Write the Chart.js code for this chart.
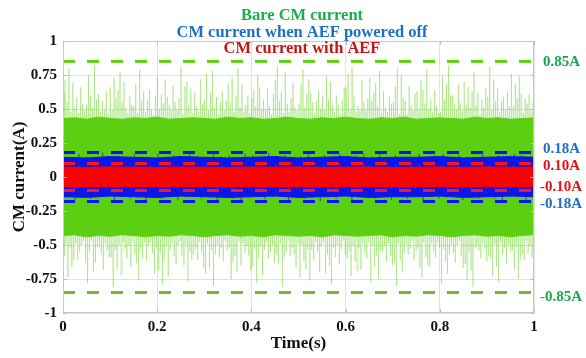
<!DOCTYPE html>
<html>
<head>
<meta charset="utf-8">
<script src="https://cdn.jsdelivr.net/npm/chart.js@4.4.1/dist/chart.umd.min.js"></script>
<style>
  html, body { margin: 0; padding: 0; background: #fff; }
  canvas { display: block; }
</style>
</head>
<body>
<canvas id="cmChart" width="586" height="358"></canvas>
<script>
// sampled CM current peaks (A), alternating positive / negative samples
const bareCurrent = [
  0.62,-0.58, 0.71,-0.49, 0.55,-0.74, 0.80,-0.52, 0.48,-0.66, 0.69,-0.61,
  0.52,-0.49, 0.58,-0.61, 0.47,-0.55, 0.66,-0.50, 0.54,-0.47, 0.49,-0.63,
  0.53,-0.78, 0.75,-0.55, 0.60,-0.47, 0.51,-0.70, 0.82,-0.63, 0.57,-0.51,
  0.61,-0.52, 0.48,-0.57, 0.56,-0.68, 0.50,-0.49, 0.63,-0.54, 0.46,-0.59,
  0.66,-0.59, 0.49,-0.81, 0.73,-0.54, 0.58,-0.68, 0.64,-0.50, 0.77,-0.72,
  0.55,-0.48, 0.70,-0.53, 0.51,-0.60, 0.47,-0.51, 0.59,-0.66, 0.53,-0.47,
  0.52,-0.57, 0.68,-0.64, 0.47,-0.76, 0.79,-0.53, 0.56,-0.60, 0.63,-0.48,
  0.48,-0.62, 0.57,-0.50, 0.64,-0.48, 0.50,-0.56, 0.46,-0.71, 0.60,-0.52,
  0.74,-0.69, 0.50,-0.56, 0.61,-0.79, 0.54,-0.62, 0.72,-0.51, 0.59,-0.73,
  0.53,-0.54, 0.49,-0.49, 0.67,-0.58, 0.55,-0.64, 0.50,-0.50, 0.58,-0.47,
  0.81,-0.58, 0.46,-0.65, 0.67,-0.50, 0.70,-0.77, 0.53,-0.55, 0.65,-0.61,
  0.47,-0.57, 0.62,-0.53, 0.52,-0.61, 0.48,-0.48, 0.72,-0.55, 0.54,-0.67,
  0.57,-0.71, 0.76,-0.49, 0.49,-0.67, 0.62,-0.54, 0.78,-0.80, 0.51,-0.57,
  0.59,-0.50, 0.46,-0.59, 0.55,-0.52, 0.63,-0.62, 0.49,-0.47, 0.56,-0.54,
  0.69,-0.52, 0.55,-0.75, 0.73,-0.63, 0.48,-0.58, 0.60,-0.70, 0.80,-0.47,
  0.51,-0.65, 0.68,-0.49, 0.48,-0.56, 0.53,-0.51, 0.60,-0.58, 0.47,-0.69,
  0.58,-0.66, 0.64,-0.53, 0.52,-0.78, 0.75,-0.60, 0.66,-0.51, 0.50,-0.72,
  0.57,-0.53, 0.50,-0.48, 0.65,-0.60, 0.52,-0.55, 0.46,-0.50, 0.61,-0.63,
  0.71,-0.57, 0.82,-0.64, 0.56,-0.49, 0.63,-0.81, 0.47,-0.59, 0.77,-0.55,
  0.54,-0.47, 0.48,-0.58, 0.58,-0.52, 0.69,-0.57, 0.51,-0.66, 0.49,-0.49,
  0.54,-0.74, 0.68,-0.50, 0.79,-0.62, 0.51,-0.68, 0.61,-0.53, 0.72,-0.76,
  0.62,-0.54, 0.55,-0.61, 0.47,-0.48, 0.56,-0.55, 0.64,-0.70, 0.50,-0.51,
  0.60,-0.48, 0.49,-0.71, 0.74,-0.57, 0.57,-0.65, 0.70,-0.79, 0.53,-0.52,
  0.48,-0.59, 0.60,-0.50, 0.53,-0.64, 0.46,-0.53, 0.57,-0.47, 0.66,-0.57,
  0.65,-0.60, 0.76,-0.55, 0.50,-0.73, 0.81,-0.50, 0.59,-0.62, 0.48,-0.69,
  0.52,-0.52, 0.49,-0.68, 0.71,-0.49, 0.55,-0.56, 0.50,-0.60, 0.58,-0.48,
  0.73,-0.77, 0.56,-0.51, 0.62,-0.66, 0.69,-0.58, 0.52,-0.75, 0.78,-0.54,
  0.47,-0.55, 0.63,-0.51, 0.51,-0.62, 0.48,-0.49, 0.59,-0.58, 0.54,-0.65,
  0.55,-0.63, 0.67,-0.80, 0.80,-0.49, 0.46,-0.61, 0.75,-0.70, 0.58,-0.56,
  0.56,-0.50, 0.46,-0.57, 0.67,-0.53, 0.53,-0.47, 0.49,-0.61, 0.61,-0.54,
  0.63,-0.52, 0.50,-0.67, 0.71,-0.74, 0.64,-0.48, 0.54,-0.59, 0.79,-0.65,
  0.50,-0.66, 0.57,-0.49, 0.48,-0.55, 0.64,-0.59, 0.52,-0.48, 0.47,-0.52,
  0.48,-0.78, 0.74,-0.53, 0.57,-0.62, 0.68,-0.71, 0.82,-0.57, 0.60,-0.50,
  0.60,-0.56, 0.54,-0.63, 0.50,-0.50, 0.68,-0.47, 0.55,-0.58, 0.49,-0.67,
  0.70,-0.64, 0.53,-0.76, 0.66,-0.55, 0.51,-0.69, 0.63,-0.81, 0.77,-0.52,
  0.53,-0.51, 0.62,-0.54, 0.46,-0.60, 0.57,-0.49, 0.51,-0.53, 0.65,-0.62,
  0.59,-0.58, 0.81,-0.60, 0.49,-0.73, 0.72,-0.49, 0.56,-0.66, 0.65,-0.77,
  0.48,-0.48, 0.56,-0.57, 0.59,-0.52, 0.50,-0.64, 0.63,-0.50, 0.52,-0.55,
  0.76,-0.54, 0.52,-0.68, 0.69,-0.51, 0.58,-0.75, 0.74,-0.61, 0.61,-0.57,
  0.47,-0.61, 0.58,-0.47, 0.54,-0.56, 0.61,-0.51, 0.49,-0.59, 0.55,-0.53
];
const offCurrent = [
  0.16,-0.15, 0.14,-0.17, 0.17,-0.14, 0.15,-0.16, 0.13,-0.15, 0.18,-0.13,
  0.15,-0.17, 0.16,-0.14, 0.14,-0.16, 0.17,-0.15, 0.15,-0.18, 0.13,-0.14,
  0.17,-0.16, 0.15,-0.13, 0.16,-0.17, 0.14,-0.15, 0.18,-0.14, 0.15,-0.16,
  0.14,-0.15, 0.17,-0.18, 0.15,-0.14, 0.16,-0.16, 0.13,-0.17, 0.17,-0.15,
  0.16,-0.14, 0.14,-0.16, 0.18,-0.15, 0.15,-0.13, 0.16,-0.17, 0.14,-0.15,
  0.15,-0.16, 0.17,-0.14, 0.13,-0.18, 0.16,-0.15, 0.15,-0.16, 0.17,-0.14,
  0.14,-0.17, 0.16,-0.15, 0.17,-0.13, 0.15,-0.16, 0.18,-0.15, 0.13,-0.17,
  0.16,-0.14, 0.15,-0.16, 0.14,-0.15, 0.17,-0.18, 0.15,-0.14, 0.16,-0.16,
  0.17,-0.15, 0.14,-0.13, 0.16,-0.17, 0.15,-0.15, 0.13,-0.16, 0.18,-0.14,
  0.15,-0.16, 0.16,-0.17, 0.14,-0.15, 0.17,-0.14, 0.16,-0.18, 0.15,-0.15
];
const aefCurrent = [
  0.085,-0.08, 0.08,-0.09, 0.095,-0.08, 0.08,-0.085, 0.09,-0.08, 0.08,-0.09,
  0.085,-0.085, 0.09,-0.08, 0.08,-0.09, 0.085,-0.095, 0.08,-0.08, 0.09,-0.085,
  0.08,-0.09, 0.085,-0.08, 0.095,-0.09, 0.08,-0.085, 0.09,-0.08, 0.08,-0.09,
  0.09,-0.08, 0.08,-0.085, 0.085,-0.09, 0.08,-0.095, 0.09,-0.08, 0.085,-0.085,
  0.08,-0.09, 0.085,-0.08, 0.08,-0.085, 0.095,-0.08, 0.085,-0.09, 0.08,-0.09,
  0.085,-0.08, 0.09,-0.085, 0.08,-0.08, 0.085,-0.09, 0.08,-0.095, 0.09,-0.08,
  0.08,-0.085, 0.085,-0.09, 0.09,-0.08, 0.08,-0.085, 0.085,-0.08, 0.08,-0.09,
  0.09,-0.085, 0.08,-0.08, 0.085,-0.09, 0.095,-0.085, 0.08,-0.08, 0.085,-0.09,
  0.08,-0.085, 0.09,-0.08, 0.085,-0.09, 0.08,-0.095, 0.085,-0.08, 0.09,-0.085,
  0.085,-0.09, 0.08,-0.08, 0.09,-0.085, 0.085,-0.08, 0.08,-0.09, 0.085,-0.09
];

// edges of the dense (solid looking) part of each trace
const bareUpper = [
  0.43,0.435,0.425,0.44,0.43,0.425,0.435,0.43,0.44,0.425,0.43,0.435,0.43,0.425,
  0.44,0.43,0.435,0.425,0.43,0.44,0.43,0.425,0.435,0.43,0.44,0.43,0.425,0.435,
  0.43,0.44,0.425,0.43,0.435,0.43,0.425,0.44,0.43,0.435,0.425,0.43,0.435
];
const bareLower = [
  -0.43,-0.425,-0.44,-0.43,-0.435,-0.425,-0.43,-0.44,-0.43,-0.435,-0.425,-0.43,-0.44,-0.43,
  -0.425,-0.435,-0.43,-0.44,-0.425,-0.43,-0.435,-0.43,-0.44,-0.425,-0.43,-0.435,-0.43,-0.425,
  -0.44,-0.43,-0.435,-0.425,-0.43,-0.44,-0.43,-0.425,-0.435,-0.43,-0.44,-0.43,-0.425
];
const offUpper = [0.145,0.14,0.15,0.145,0.14,0.15,0.145,0.14,0.145,0.15,0.14,0.145,0.15,0.14,0.145,0.145,0.15,0.14,0.145,0.15,0.145];
const offLower = [-0.145,-0.15,-0.14,-0.145,-0.15,-0.14,-0.145,-0.15,-0.145,-0.14,-0.15,-0.145,-0.14,-0.15,-0.145,-0.145,-0.14,-0.15,-0.145,-0.14,-0.145];
const aefUpper = [0.072,0.07,0.074,0.072,0.07,0.073,0.072,0.07,0.073,0.072,0.074,0.07,0.072,0.073,0.07,0.072,0.073,0.07,0.074,0.072,0.071];
const aefLower = [-0.072,-0.074,-0.07,-0.072,-0.073,-0.07,-0.072,-0.074,-0.071,-0.072,-0.07,-0.073,-0.072,-0.07,-0.074,-0.072,-0.071,-0.073,-0.07,-0.072,-0.073];

// limit markers
const limitValues = [0.85, 0.18, 0.10, -0.10, -0.18, -0.85];
const limitLabels = ['0.85A', '0.18A', '0.10A', '-0.10A', '-0.18A', '-0.85A'];
const limitColors = ['#1aa84a', '#1f6fc4', '#e01414', '#e01414', '#1f6fc4', '#1aa84a'];
const limitLineColors = ['#5fd011', '#0a14f0', '#ff1414', '#ff1414', '#0a14f0', '#76b82a'];

const titleLines = ['Bare CM current', 'CM current when AEF powered off', 'CM current with AEF'];
const titleColors = ['#1cae4c', '#1e6fc6', '#c81414'];

const SERIF = '"Liberation Serif", "Times New Roman", serif';

function toPoints(values) {
  const n = values.length;
  return values.map((v, i) => ({ x: i / (n - 1), y: v }));
}

function fmt(v) {
  return Number(v.toFixed(2)).toString();
}

function buildDatasets() {
  const sets = [];
  // green: spikes, then band (upper fills to lower)
  sets.push({ data: toPoints(bareCurrent), borderColor: 'rgba(92,207,18,0.32)', borderWidth: 1, order: 20 });
  sets.push({ data: toPoints(bareUpper), borderColor: '#5ccf12', borderWidth: 1, backgroundColor: '#5ccf12', fill: 2, order: 19 });
  sets.push({ data: toPoints(bareLower), borderColor: '#5ccf12', borderWidth: 1, fill: false, order: 19 });
  // blue
  sets.push({ data: toPoints(offCurrent), borderColor: 'rgba(30,60,170,0.5)', borderWidth: 1, order: 18 });
  sets.push({ data: toPoints(offUpper), borderColor: '#0b16ee', borderWidth: 1, backgroundColor: '#0b16ee', fill: 5, order: 17 });
  sets.push({ data: toPoints(offLower), borderColor: '#0b16ee', borderWidth: 1, fill: false, order: 17 });
  // red
  sets.push({ data: toPoints(aefCurrent), borderColor: 'rgba(255,0,0,0.4)', borderWidth: 1, order: 16 });
  sets.push({ data: toPoints(aefUpper), borderColor: '#ff0000', borderWidth: 1, backgroundColor: '#ff0000', fill: 8, order: 15 });
  sets.push({ data: toPoints(aefLower), borderColor: '#ff0000', borderWidth: 1, fill: false, order: 15 });
  // dashed limits
  limitValues.forEach((v, i) => {
    sets.push({
      data: [{ x: 0, y: v }, { x: 1, y: v }],
      borderColor: limitLineColors[i],
      borderWidth: 3,
      borderDash: [12, 12],
      order: 5
    });
  });
  return sets;
}

const framePlugin = {
  id: 'frame',
  afterDatasetsDraw(chart) {
    const { ctx, chartArea: a, scales } = chart;
    ctx.save();
    ctx.strokeStyle = '#c8c8c8';
    ctx.lineWidth = 1;
    ctx.strokeRect(a.left + 0.5, a.top + 0.5, a.right - a.left - 1, a.bottom - a.top - 1);
    // inner ticks like the original plot
    ctx.strokeStyle = '#bdbdbd';
    ctx.beginPath();
    scales.y.ticks.forEach(t => {
      const y = Math.round(scales.y.getPixelForValue(t.value)) + 0.5;
      ctx.moveTo(a.left, y); ctx.lineTo(a.left + 4, y);
      ctx.moveTo(a.right, y); ctx.lineTo(a.right - 4, y);
    });
    scales.x.ticks.forEach(t => {
      const x = Math.round(scales.x.getPixelForValue(t.value)) + 0.5;
      ctx.moveTo(x, a.bottom); ctx.lineTo(x, a.bottom - 4);
      ctx.moveTo(x, a.top); ctx.lineTo(x, a.top + 4);
    });
    ctx.stroke();
    ctx.restore();
  },
  afterDraw(chart) {
    const { ctx, chartArea: a, scales } = chart;
    ctx.save();
    // stacked coloured title lines
    ctx.font = 'bold 16.5px ' + SERIF;
    ctx.textAlign = 'center';
    ctx.textBaseline = 'middle';
    const titleY = [16, 32.5, 48.5];
    titleLines.forEach((s, i) => {
      ctx.fillStyle = titleColors[i];
      ctx.fillText(s, 302, titleY[i]);
    });
    // limit labels at right, nudged apart where they crowd
    const nudge = [0, -4, 2, -4, 2, 4];
    ctx.font = 'bold 15px ' + SERIF;
    ctx.textAlign = 'left';
    limitValues.forEach((v, i) => {
      ctx.fillStyle = limitColors[i];
      const x = limitLabels[i].startsWith('-') ? a.right + 6 : a.right + 9;
      ctx.fillText(limitLabels[i], x, scales.y.getPixelForValue(v) + 1 + nudge[i]);
    });
    ctx.restore();
  }
};

const ctx = document.getElementById('cmChart').getContext('2d');
new Chart(ctx, {
  type: 'line',
  data: { datasets: buildDatasets() },
  options: {
    responsive: false,
    animation: false,
    events: [],
    elements: { point: { radius: 0 }, line: { tension: 0 } },
    layout: { padding: { top: 41, right: 52, bottom: 0, left: 9 } },
    plugins: { legend: { display: false }, tooltip: { enabled: false } },
    scales: {
      x: {
        type: 'linear',
        min: 0,
        max: 1,
        afterFit: s => { s.height = 45; },
        border: { display: false },
        grid: { color: '#e2e2e2', drawTicks: false },
        ticks: { stepSize: 0.2, padding: 5, color: '#111', callback: fmt, font: { family: SERIF, size: 15, weight: 'bold' } },
        title: { display: true, text: 'Time(s)', color: '#111', padding: { top: 0 }, font: { family: SERIF, size: 17, weight: 'bold' } }
      },
      y: {
        type: 'linear',
        min: -1,
        max: 1,
        afterFit: s => { s.width = 54; },
        border: { display: false },
        grid: { color: '#e2e2e2', drawTicks: false },
        ticks: { stepSize: 0.25, padding: 6, color: '#111', callback: fmt, font: { family: SERIF, size: 15, weight: 'bold' } },
        title: { display: true, text: 'CM current(A)', color: '#111', padding: 0, font: { family: SERIF, size: 17, weight: 'bold' } }
      }
    }
  },
  plugins: [framePlugin]
});
</script>
</body>
</html>
